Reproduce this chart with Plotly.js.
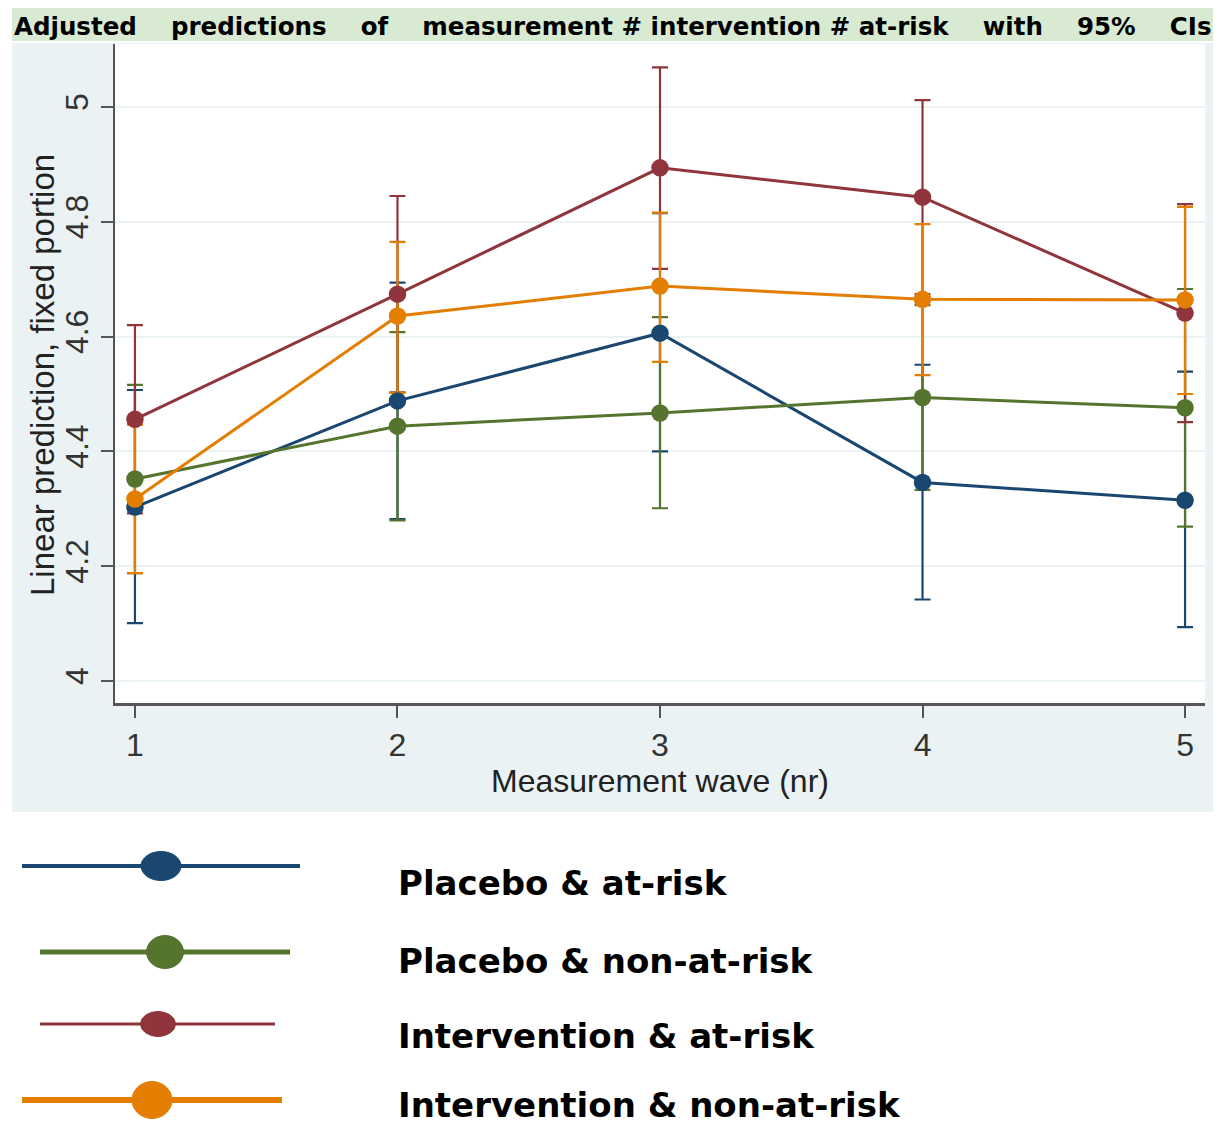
<!DOCTYPE html>
<html>
<head>
<meta charset="utf-8">
<script src="https://cdn.plot.ly/plotly-3.0.1.min.js"></script>
<style>
  html, body { margin: 0; padding: 0; background: #ffffff; }
  #chart { width: 1226px; height: 1124px; }
</style>
</head>
<body>
<div id="chart"></div>
<script>
// ---------------- DATA ----------------
const waves = [1, 2, 3, 4, 5];
const seriesNames = ['Placebo & at-risk', 'Placebo & non-at-risk', 'Intervention & at-risk', 'Intervention & non-at-risk'];

const placeboAtRisk      = [4.303, 4.488, 4.606, 4.346, 4.315];
const placeboAtRiskLo    = [4.101, 4.282, 4.400, 4.142, 4.094];
const placeboAtRiskHi    = [4.507, 4.694, 4.815, 4.551, 4.539];

const placeboNonAtRisk   = [4.352, 4.444, 4.467, 4.494, 4.476];
const placeboNonAtRiskLo = [4.188, 4.280, 4.301, 4.333, 4.269];
const placeboNonAtRiskHi = [4.516, 4.608, 4.634, 4.655, 4.683];

const interAtRisk        = [4.456, 4.674, 4.894, 4.843, 4.641];
const interAtRiskLo      = [4.292, 4.503, 4.718, 4.674, 4.451];
const interAtRiskHi      = [4.620, 4.845, 5.069, 5.012, 4.831];

const interNonAtRisk     = [4.317, 4.636, 4.688, 4.665, 4.664];
const interNonAtRiskLo   = [4.188, 4.502, 4.556, 4.533, 4.500];
const interNonAtRiskHi   = [4.446, 4.765, 4.816, 4.796, 4.826];

const yTickVals = [4, 4.2, 4.4, 4.6, 4.8, 5];
const yTickText = ['4', '4.2', '4.4', '4.6', '4.8', '5'];
const xTickText = ['1', '2', '3', '4', '5'];

const chartTitle = 'Adjusted\u00a0\u00a0\u00a0 predictions\u00a0\u00a0\u00a0 of\u00a0\u00a0\u00a0 measurement # intervention # at-risk\u00a0\u00a0\u00a0 with\u00a0\u00a0\u00a0 95%\u00a0\u00a0\u00a0 CIs';
const xTitle = 'Measurement wave (nr)';
const yTitle = 'Linear prediction, fixed portion';

// ---------------- STYLE ----------------
const colors = ['#1a476f', '#55752f', '#90353b', '#e37e00'];
const means = [placeboAtRisk, placeboNonAtRisk, interAtRisk, interNonAtRisk];
const lows  = [placeboAtRiskLo, placeboNonAtRiskLo, interAtRiskLo, interNonAtRiskLo];
const highs = [placeboAtRiskHi, placeboNonAtRiskHi, interAtRiskHi, interNonAtRiskHi];

const W = 1226, H = 1124;
const M = { l: 115, r: 21, t: 44, b: 421 };
const plotW = W - M.l - M.r, plotH = H - M.t - M.b;
const pxX = px => (px - M.l) / plotW;           // page pixel -> paper x
const pxY = py => (H - M.b - py) / plotH;       // page pixel -> paper y

// ---------------- TRACES ----------------
const traces = [];
// confidence intervals first (drawn underneath)
means.forEach((m, i) => {
  traces.push({
    x: waves, y: m, type: 'scatter', mode: 'markers',
    marker: { size: 2, opacity: 0, color: colors[i] },
    error_y: {
      type: 'data', symmetric: false,
      array: highs[i].map((h, k) => h - m[k]),
      arrayminus: m.map((v, k) => v - lows[i][k]),
      color: colors[i], thickness: 2.2, width: 8
    },
    showlegend: false, hoverinfo: 'skip'
  });
});
// connected lines with markers
means.forEach((m, i) => {
  traces.push({
    x: waves, y: m, type: 'scatter', mode: 'lines+markers', name: seriesNames[i],
    line: { color: colors[i], width: 3 },
    marker: { color: colors[i], size: 17.5 },
    showlegend: false
  });
});

// ---------------- LEGEND (custom, below the graph) ----------------
const legendGeom = [
  { x0: 22, x1: 300, y: 866, cx: 161, w: 40, h: 29, lw: 4,   ty: 883 },
  { x0: 40, x1: 290, y: 952, cx: 165, w: 37, h: 33, lw: 5,   ty: 961 },
  { x0: 40, x1: 275, y: 1024, cx: 158, w: 35, h: 25, lw: 3,  ty: 1036 },
  { x0: 22, x1: 282, y: 1100, cx: 152, w: 40, h: 37, lw: 6,  ty: 1105 }
];

const shapes = [
  // outer graph region (light bluish gray)
  { type: 'rect', xref: 'paper', yref: 'paper', layer: 'below',
    x0: pxX(12), x1: pxX(1213), y0: pxY(812), y1: pxY(43),
    fillcolor: '#eaf2f3', line: { width: 0 } },
  // plot region (white)
  { type: 'rect', xref: 'paper', yref: 'paper', layer: 'below',
    x0: 0, x1: 1, y0: 0, y1: 1, fillcolor: '#ffffff', line: { width: 0 } },
  // title band
  { type: 'rect', xref: 'paper', yref: 'paper', layer: 'below',
    x0: pxX(12), x1: pxX(1213), y0: pxY(41), y1: pxY(8),
    fillcolor: '#d9ead3', line: { width: 0 } }
];
const annotations = [];
legendGeom.forEach((g, i) => {
  shapes.push({ type: 'line', xref: 'paper', yref: 'paper',
    x0: pxX(g.x0), x1: pxX(g.x1), y0: pxY(g.y), y1: pxY(g.y),
    line: { color: colors[i], width: g.lw } });
  shapes.push({ type: 'circle', xref: 'paper', yref: 'paper',
    x0: pxX(g.cx - g.w / 2), x1: pxX(g.cx + g.w / 2),
    y0: pxY(g.y + g.h / 2), y1: pxY(g.y - g.h / 2),
    fillcolor: colors[i], line: { color: colors[i], width: 1 } });
  annotations.push({ xref: 'paper', yref: 'paper', x: pxX(396), y: pxY(g.ty),
    xanchor: 'left', yanchor: 'middle', showarrow: false, text: seriesNames[i].replace('&', '&amp;'),
    font: { family: 'DejaVu Sans, Verdana, sans-serif', size: 34, weight: 'bold', color: '#000000' } });
});
// y axis title (placed explicitly to match position)
annotations.push({ xref: 'paper', yref: 'paper', x: pxX(42), y: pxY(375),
  xanchor: 'center', yanchor: 'middle', showarrow: false, textangle: -90, text: yTitle,
  font: { family: 'Liberation Sans, Arial, sans-serif', size: 33, color: '#222222' } });

const axisFont = { family: 'Liberation Sans, Arial, Helvetica, sans-serif', size: 32, color: '#333333' };

const layout = {
  width: W, height: H,
  margin: M,
  paper_bgcolor: '#ffffff', plot_bgcolor: '#ffffff',
  showlegend: false,
  title: {
    text: chartTitle, xref: 'container', yref: 'container',
    x: 14 / W, xanchor: 'left', y: 1 - 26 / H, yanchor: 'middle',
    font: { family: 'DejaVu Sans, Verdana, sans-serif', size: 24.5, weight: 'bold', color: '#000000' }
  },
  xaxis: {
    range: [0.924, 5.076], tickvals: waves, ticktext: xTickText,
    showgrid: false, zeroline: false,
    showline: true, linecolor: '#555555', linewidth: 2.5,
    ticks: 'outside', ticklen: 12, tickwidth: 2, tickcolor: '#555555',
    tickfont: axisFont,
    title: { text: xTitle, font: { family: 'Liberation Sans, Arial, sans-serif', size: 32, color: '#222222' }, standoff: 8 }
  },
  yaxis: {
    range: [3.9617, 5.1098], tickvals: yTickVals, ticktext: yTickText, tickangle: -90,
    showgrid: true, gridcolor: '#eaf2f3', gridwidth: 2, zeroline: false,
    showline: true, linecolor: '#555555', linewidth: 2.5,
    ticks: 'outside', ticklen: 12, tickwidth: 2, tickcolor: '#555555',
    tickfont: axisFont
  },
  shapes: shapes,
  annotations: annotations
};

Plotly.newPlot('chart', traces, layout, { staticPlot: true, displayModeBar: false });
</script>
</body>
</html>
